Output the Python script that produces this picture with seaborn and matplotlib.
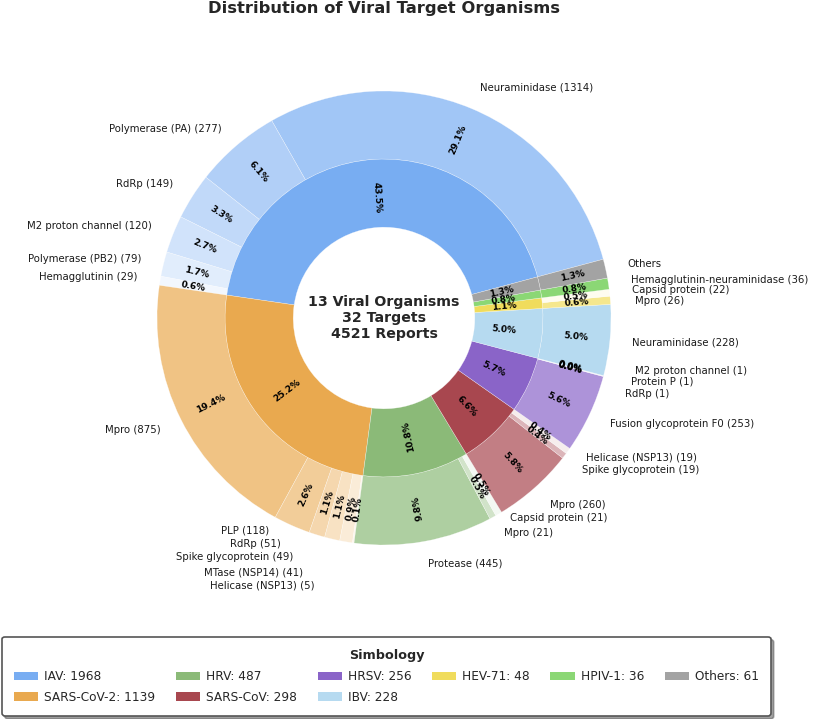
import numpy as np
import matplotlib
matplotlib.use("Agg")
import matplotlib.pyplot as plt
from matplotlib.patches import Patch
from matplotlib.transforms import offset_copy
import matplotlib.colors as mcolors
import seaborn as sns

# ---- data ----
organisms = ['IAV', 'SARS-CoV-2', 'HRV', 'SARS-CoV', 'HRSV', 'IBV', 'HEV-71', 'HPIV-1', 'Others']
org_colors = ['#78adf2', '#e9a94f', '#8bba78', '#a8474f', '#8a64c8', '#b6daf0', '#f0dc5c', '#8bd775', '#a3a3a3']

iav_targets = ['Neuraminidase', 'Polymerase (PA)', 'RdRp', 'M2 proton channel', 'Polymerase (PB2)', 'Hemagglutinin']
iav_counts = [1314, 277, 149, 120, 79, 29]
sars2_targets = ['Mpro', 'PLP', 'RdRp', 'Spike glycoprotein', 'MTase (NSP14)', 'Helicase (NSP13)']
sars2_counts = [875, 118, 51, 49, 41, 5]
hrv_targets = ['Protease', 'Mpro', 'Capsid protein']
hrv_counts = [445, 21, 21]
sars_targets = ['Mpro', 'Spike glycoprotein', 'Helicase (NSP13)']
sars_counts = [260, 19, 19]
hrsv_targets = ['Fusion glycoprotein F0', 'RdRp', 'Protein P', 'M2 proton channel']
hrsv_counts = [253, 1, 1, 1]
ibv_targets = ['Neuraminidase']
ibv_counts = [228]
hev_targets = ['Mpro', 'Capsid protein']
hev_counts = [26, 22]
hpiv_targets = ['Hemagglutinin-neuraminidase']
hpiv_counts = [36]
others_targets = ['Others']
others_counts = [61]

n_organisms = 13
n_targets = 32

groups = [
    (iav_targets, iav_counts), (sars2_targets, sars2_counts), (hrv_targets, hrv_counts),
    (sars_targets, sars_counts), (hrsv_targets, hrsv_counts), (ibv_targets, ibv_counts),
    (hev_targets, hev_counts), (hpiv_targets, hpiv_counts), (others_targets, others_counts),
]
org_counts = [sum(c) for _, c in groups]
total = sum(org_counts)

# label nudges (pixels) for crowded outer labels
nudge = {
    ('SARS-CoV-2', 'PLP'): (-14, 16),
    ('SARS-CoV-2', 'RdRp'): (-29, 13),
    ('SARS-CoV-2', 'Spike glycoprotein'): (-34, 4),
    ('SARS-CoV-2', 'MTase (NSP14)'): (-39, -8),
    ('SARS-CoV-2', 'Helicase (NSP13)'): (-36, -20),
    ('HRV', 'Mpro'): (0, 4),
    ('HRV', 'Capsid protein'): (0, 15),
    ('SARS-CoV', 'Helicase (NSP13)'): (0, 7),
    ('HRSV', 'RdRp'): (0, -12),
    ('HRSV', 'Protein P'): (6, 0),
    ('HRSV', 'M2 proton channel'): (10, 11),
    ('HEV-71', 'Mpro'): (2, -3),
}


def lighten(color, t):
    rgb = np.array(mcolors.to_rgb(color))
    return tuple(rgb + (1 - rgb) * t)


outer_counts, outer_labels, outer_colors, outer_keys = [], [], [], []
for org, col, (names, counts) in zip(organisms, org_colors, groups):
    fade = [0.0] if len(counts) == 1 else np.linspace(0.3, 0.9, len(counts))
    for name, cnt, f in zip(names, counts, fade):
        outer_counts.append(cnt)
        outer_labels.append(name if name == 'Others' else f"{name} ({cnt})")
        outer_colors.append(lighten(col, f))
        outer_keys.append((org, name))

sns.set_theme(style="white")
plt.rcParams['font.family'] = 'DejaVu Sans'

fig = plt.figure(figsize=(8.13, 7.19), dpi=100)
ax = fig.add_axes([0, 0, 1, 1])

start = 15
wedge_kw = dict(width=0.3, edgecolor=(1, 1, 1, 0.6), linewidth=0.3)

out_w, out_l, out_p = ax.pie(outer_counts, radius=1.0, labels=outer_labels, labeldistance=1.1,
                             colors=outer_colors, autopct='%1.1f%%', pctdistance=0.85,
                             startangle=start, wedgeprops=wedge_kw,
                             textprops=dict(fontsize=7.3, color='#1a1a1a'))
in_w, in_l, in_p = ax.pie(org_counts, radius=0.7, colors=org_colors, autopct='%1.1f%%',
                          pctdistance=0.76, startangle=start, wedgeprops=wedge_kw)


def rotate_pcts(wedges, texts):
    for w, t in zip(wedges, texts):
        ang = (w.theta1 + w.theta2) / 2
        a = ang % 360
        rot = ang - 180 if 90 < a < 290 else ang
        t.set_rotation(rot)
        t.set_rotation_mode('anchor')
        t.set_fontsize(6.5)
        t.set_fontweight('bold')
        t.set_color('black')


rotate_pcts(out_w, out_p)
rotate_pcts(in_w, in_p)

for key, t in zip(outer_keys, out_l):
    if key in nudge:
        dx, dy = nudge[key]
        t.set_transform(offset_copy(t.get_transform(), fig=fig, x=dx, y=dy, units='dots'))

ax.text(0, 0, f"{n_organisms} Viral Organisms\n{n_targets} Targets\n{total} Reports",
        ha='center', va='center', fontsize=10.2, fontweight='bold', linespacing=1.15)

ax.text(0, (318 - 9) / 227, "Distribution of Viral Target Organisms", ha='center', va='center',
        fontsize=11.8, fontweight='bold')

ax.set_xlim(-384 / 227, (813 - 384) / 227)
ax.set_ylim(-(719 - 318) / 227, 318 / 227)
ax.set_aspect('auto')
ax.axis('off')

handles = [Patch(facecolor=c, edgecolor='none', label=f"{o}: {n}")
           for o, c, n in zip(organisms, org_colors, org_counts)]
leg = ax.legend(handles=handles, title='Simbology', loc='upper center',
                bbox_to_anchor=(0.4754, 0.114), ncol=6, fontsize=8.7,
                title_fontproperties=dict(weight='bold', size=9.2),
                frameon=True, fancybox=True, shadow=True, borderaxespad=0,
                borderpad=1.0, labelspacing=0.65,
                handlelength=2.0, handletextpad=0.5, columnspacing=1.7)
leg.get_frame().set_edgecolor('#555555')
leg.get_frame().set_linewidth(1.2)

fig.savefig('out.png', dpi=100)
